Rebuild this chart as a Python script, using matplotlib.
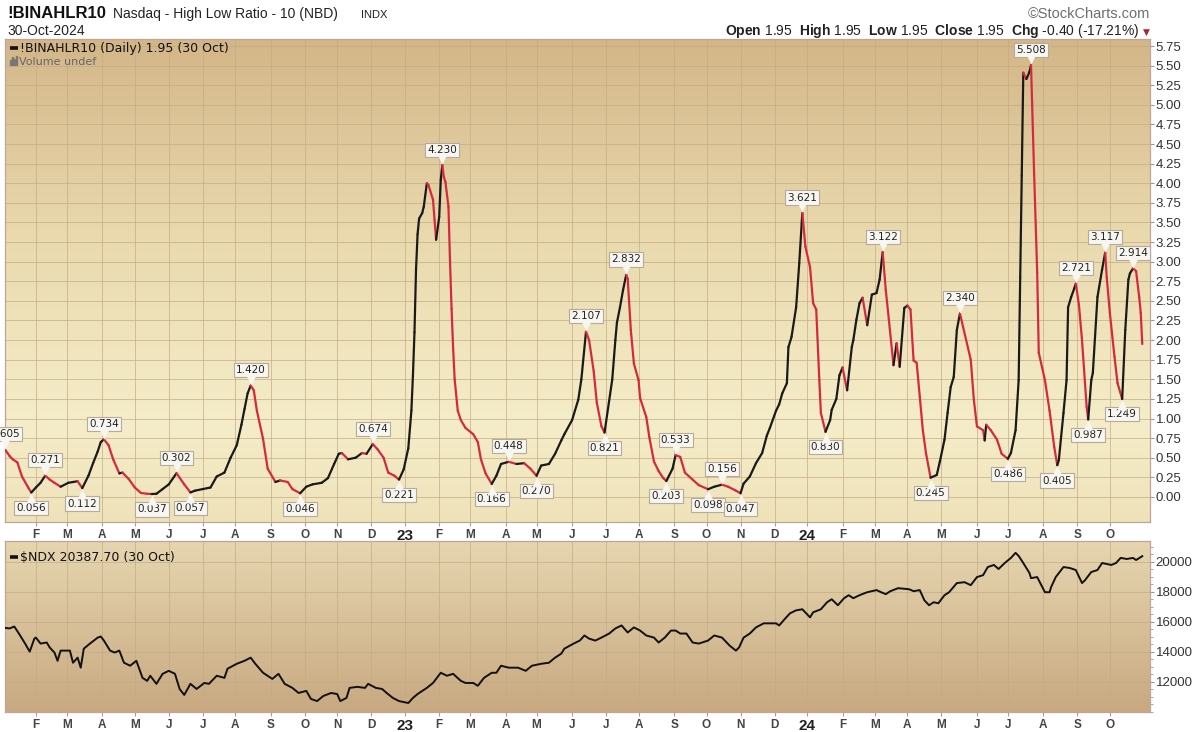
import numpy as np
import matplotlib
matplotlib.use("Agg")
import matplotlib.pyplot as plt
from matplotlib.colors import LinearSegmentedColormap
from matplotlib.collections import LineCollection
from matplotlib.patches import Rectangle
from matplotlib.transforms import ScaledTranslation

plt.rcParams["font.family"] = ["Liberation Sans", "DejaVu Sans"]
plt.rcParams["mathtext.fontset"] = "custom"
plt.rcParams["mathtext.bf"] = "Liberation Sans:bold"
plt.rcParams["mathtext.rm"] = "Liberation Sans"

START = np.datetime64("2022-01-04")

# --- !BINAHLR10 ---
hlr_dates = [
    "2022-01-04", "2022-01-07", "2022-01-11", "2022-01-14", "2022-01-19", "2022-01-25", "2022-01-27",
    "2022-02-01", "2022-02-04", "2022-02-09", "2022-02-14", "2022-02-17", "2022-02-23", "2022-03-02",
    "2022-03-07", "2022-03-10", "2022-03-15", "2022-03-21", "2022-03-24", "2022-03-29", "2022-03-31",
    "2022-04-04", "2022-04-07", "2022-04-12", "2022-04-18", "2022-04-20", "2022-04-26", "2022-05-02",
    "2022-05-06", "2022-05-12", "2022-05-17", "2022-05-20", "2022-05-26", "2022-06-01", "2022-06-08",
    "2022-06-15", "2022-06-21", "2022-06-24", "2022-07-01", "2022-07-08", "2022-07-14", "2022-07-21",
    "2022-07-27", "2022-08-02", "2022-08-05", "2022-08-09", "2022-08-11", "2022-08-15", "2022-08-17",
    "2022-08-19", "2022-08-25", "2022-08-30", "2022-09-06", "2022-09-09", "2022-09-16", "2022-09-21",
    "2022-09-28", "2022-10-04", "2022-10-10", "2022-10-18", "2022-10-24", "2022-10-28", "2022-11-02",
    "2022-11-04", "2022-11-10", "2022-11-17", "2022-11-23", "2022-11-28", "2022-12-02", "2022-12-07",
    "2022-12-13", "2022-12-16", "2022-12-22", "2022-12-27", "2022-12-30",
    "2023-01-04", "2023-01-06", "2023-01-09", "2023-01-10", "2023-01-11", "2023-01-12", "2023-01-13",
    "2023-01-17", "2023-01-18", "2023-01-20", "2023-01-23", "2023-01-26", "2023-01-27", "2023-01-30",
    "2023-02-01", "2023-02-02", "2023-02-03", "2023-02-06", "2023-02-07", "2023-02-09", "2023-02-10",
    "2023-02-13", "2023-02-14", "2023-02-15", "2023-02-17", "2023-02-21", "2023-02-24", "2023-03-03",
    "2023-03-08", "2023-03-10", "2023-03-15", "2023-03-21", "2023-03-24", "2023-03-29", "2023-04-05",
    "2023-04-12", "2023-04-19", "2023-04-25", "2023-05-01", "2023-05-04", "2023-05-11", "2023-05-17",
    "2023-05-23", "2023-05-25", "2023-06-01", "2023-06-07", "2023-06-09", "2023-06-14", "2023-06-16",
    "2023-06-21", "2023-06-23", "2023-06-28", "2023-06-30", "2023-07-07", "2023-07-11", "2023-07-12",
    "2023-07-14", "2023-07-18", "2023-07-20", "2023-07-21", "2023-07-25", "2023-07-27", "2023-08-01",
    "2023-08-02", "2023-08-08", "2023-08-10", "2023-08-15", "2023-08-18", "2023-08-23", "2023-08-25",
    "2023-08-31", "2023-09-04", "2023-09-07", "2023-09-12", "2023-09-19", "2023-09-25", "2023-10-03",
    "2023-10-09", "2023-10-16", "2023-10-20", "2023-10-27", "2023-11-01", "2023-11-03", "2023-11-09",
    "2023-11-15", "2023-11-21", "2023-11-24", "2023-11-28", "2023-12-04", "2023-12-06", "2023-12-08",
    "2023-12-13", "2023-12-14", "2023-12-18", "2023-12-21", "2023-12-25", "2023-12-27", "2023-12-29",
    "2024-01-03", "2024-01-05", "2024-01-09", "2024-01-11", "2024-01-12", "2024-01-17", "2024-01-22",
    "2024-01-23", "2024-01-26", "2024-01-30", "2024-02-01", "2024-02-06", "2024-02-09", "2024-02-12",
    "2024-02-14", "2024-02-16", "2024-02-20", "2024-02-23", "2024-02-28", "2024-03-04", "2024-03-06",
    "2024-03-08", "2024-03-12", "2024-03-14", "2024-03-19", "2024-03-21", "2024-03-25", "2024-03-28",
    "2024-04-01", "2024-04-03", "2024-04-05", "2024-04-09", "2024-04-11", "2024-04-15", "2024-04-17",
    "2024-04-22", "2024-04-26", "2024-04-30", "2024-05-03", "2024-05-07", "2024-05-09", "2024-05-13",
    "2024-05-15", "2024-05-17", "2024-05-21", "2024-05-28", "2024-05-30", "2024-06-03", "2024-06-07",
    "2024-06-10", "2024-06-11", "2024-06-14", "2024-06-20", "2024-06-25", "2024-07-01", "2024-07-03",
    "2024-07-08", "2024-07-10", "2024-07-11", "2024-07-12", "2024-07-15", "2024-07-17", "2024-07-19",
    "2024-07-22", "2024-07-24", "2024-07-26", "2024-07-29", "2024-08-02", "2024-08-07", "2024-08-12",
    "2024-08-14", "2024-08-15", "2024-08-20", "2024-08-22", "2024-08-23", "2024-08-27", "2024-08-29",
    "2024-08-30", "2024-09-03", "2024-09-05", "2024-09-10", "2024-09-11", "2024-09-13", "2024-09-16",
    "2024-09-19", "2024-09-24", "2024-09-26", "2024-09-27", "2024-10-01", "2024-10-04", "2024-10-08",
    "2024-10-11", "2024-10-15", "2024-10-17", "2024-10-18", "2024-10-22", "2024-10-24", "2024-10-28",
    "2024-10-29", "2024-10-30",
]
hlr_values = [
    0.605, 0.52, 0.48, 0.44, 0.26, 0.12, 0.056,
    0.12, 0.18, 0.271, 0.22, 0.18, 0.13, 0.18,
    0.19, 0.20, 0.112, 0.27, 0.43, 0.58, 0.70,
    0.734, 0.66, 0.48, 0.30, 0.31, 0.23, 0.12,
    0.05, 0.04, 0.037, 0.04, 0.10, 0.16, 0.302,
    0.16, 0.057, 0.08, 0.10, 0.12, 0.26, 0.31,
    0.50, 0.66, 0.92, 1.12, 1.32, 1.420, 1.36,
    1.10, 0.74, 0.36, 0.19, 0.21, 0.19, 0.10,
    0.046, 0.13, 0.16, 0.18, 0.24, 0.42, 0.55,
    0.56, 0.48, 0.50, 0.56, 0.55, 0.674, 0.61,
    0.50, 0.31, 0.27, 0.221, 0.35,
    0.62, 1.10, 1.55, 2.10, 2.90, 3.35, 3.55,
    3.62, 3.70, 4.00, 3.98, 3.79, 3.53, 3.28,
    3.57, 4.04, 4.230, 4.08, 4.02, 3.70, 3.00,
    2.40, 1.90, 1.50, 1.10, 0.98, 0.88, 0.80,
    0.70, 0.48, 0.30, 0.166, 0.27, 0.42, 0.448,
    0.42, 0.43, 0.36, 0.270, 0.40, 0.42, 0.55,
    0.72, 0.80, 0.98, 1.24, 1.50, 2.107, 2.00,
    1.60, 1.20, 0.90, 0.821, 1.50, 2.00, 2.22,
    2.42, 2.64, 2.832, 2.78, 2.13, 1.70, 1.49,
    1.26, 1.02, 0.76, 0.45, 0.33, 0.24, 0.203,
    0.36, 0.533, 0.51, 0.31, 0.22, 0.15, 0.098,
    0.13, 0.156, 0.13, 0.08, 0.047, 0.17, 0.26,
    0.43, 0.56, 0.78, 0.88, 1.10, 1.18, 1.32,
    1.45, 1.91, 2.04, 2.42, 2.98, 3.621, 3.19,
    2.93, 2.47, 2.39, 1.49, 1.07, 0.830, 0.98,
    1.11, 1.25, 1.55, 1.65, 1.36, 1.91, 2.00,
    2.26, 2.47, 2.54, 2.19, 2.58, 2.60, 2.77,
    3.122, 2.64, 2.26, 1.68, 1.96, 1.66, 2.41,
    2.44, 2.39, 1.74, 1.71, 1.28, 0.85, 0.56,
    0.245, 0.28, 0.45, 0.73, 1.07, 1.40, 1.53,
    2.13, 2.340, 2.17, 1.75, 1.24, 0.90, 0.85,
    0.72, 0.92, 0.85, 0.73, 0.55, 0.486, 0.56,
    0.85, 1.49, 2.80, 4.10, 5.41, 5.33, 5.42,
    5.508, 4.13, 2.86, 1.84, 1.49, 1.10, 0.64,
    0.405, 0.47, 1.07, 1.49, 2.42, 2.55, 2.66,
    2.721, 2.45, 2.00, 1.15, 0.987, 1.49, 1.58,
    2.55, 2.90, 3.117, 2.80, 2.35, 1.79, 1.45,
    1.249, 2.13, 2.77, 2.85, 2.914, 2.88, 2.55,
    2.35, 1.95,
]

# labelled turning points
peak_dates = [
    "2022-01-04", "2022-02-09", "2022-04-04", "2022-06-08", "2022-08-15", "2022-12-02",
    "2023-02-03", "2023-04-05", "2023-06-14", "2023-07-20", "2023-09-04", "2023-10-16",
    "2023-12-27", "2024-03-08", "2024-05-17", "2024-07-22", "2024-08-30", "2024-09-26",
    "2024-10-22",
]
trough_dates = [
    "2022-01-27", "2022-03-15", "2022-05-17", "2022-06-21", "2022-09-28", "2022-12-27",
    "2023-03-21", "2023-05-01", "2023-06-30", "2023-08-25", "2023-10-03", "2023-11-01",
    "2024-01-17", "2024-04-22", "2024-07-01", "2024-08-14", "2024-09-11", "2024-10-11",
]

# --- $NDX ---
ndx_dates = [
    "2022-01-04", "2022-01-07", "2022-01-12", "2022-01-17", "2022-01-21", "2022-01-26", "2022-01-31",
    "2022-02-01", "2022-02-04", "2022-02-10", "2022-02-14", "2022-02-17", "2022-02-21", "2022-02-23",
    "2022-03-03", "2022-03-07", "2022-03-10", "2022-03-14", "2022-03-16", "2022-03-22", "2022-03-29",
    "2022-03-31", "2022-04-04", "2022-04-08", "2022-04-13", "2022-04-18", "2022-04-21", "2022-04-27",
    "2022-05-03", "2022-05-09", "2022-05-12", "2022-05-16", "2022-05-20", "2022-05-26", "2022-06-01",
    "2022-06-07", "2022-06-10", "2022-06-15", "2022-06-21", "2022-06-27", "2022-07-04", "2022-07-07",
    "2022-07-14", "2022-07-21", "2022-07-25", "2022-08-02", "2022-08-09", "2022-08-15", "2022-08-18",
    "2022-08-25", "2022-09-02", "2022-09-08", "2022-09-14", "2022-09-21", "2022-09-27", "2022-10-04",
    "2022-10-07", "2022-10-13", "2022-10-19", "2022-10-26", "2022-11-01", "2022-11-03", "2022-11-09",
    "2022-11-11", "2022-11-18", "2022-11-25", "2022-11-29", "2022-12-06", "2022-12-12", "2022-12-15",
    "2022-12-21", "2022-12-27",
    "2023-01-04", "2023-01-09", "2023-01-12", "2023-01-20", "2023-01-26", "2023-02-02", "2023-02-08",
    "2023-02-14", "2023-02-21", "2023-02-24", "2023-03-03", "2023-03-08", "2023-03-14", "2023-03-21",
    "2023-03-24", "2023-03-29", "2023-04-05", "2023-04-13", "2023-04-20", "2023-04-26", "2023-05-04",
    "2023-05-11", "2023-05-17", "2023-05-23", "2023-05-25", "2023-06-02", "2023-06-08", "2023-06-13",
    "2023-06-16", "2023-06-22", "2023-06-28", "2023-07-05", "2023-07-11", "2023-07-17", "2023-07-21",
    "2023-07-27", "2023-08-02", "2023-08-08", "2023-08-15", "2023-08-18", "2023-08-24", "2023-08-30",
    "2023-09-04", "2023-09-07", "2023-09-13", "2023-09-19", "2023-09-25", "2023-10-03", "2023-10-09",
    "2023-10-16", "2023-10-23", "2023-10-27", "2023-10-31", "2023-11-03", "2023-11-09", "2023-11-15",
    "2023-11-22", "2023-12-04", "2023-12-06", "2023-12-12", "2023-12-15", "2023-12-21", "2023-12-27",
    "2024-01-03", "2024-01-05", "2024-01-12", "2024-01-18", "2024-01-23", "2024-01-29", "2024-02-02",
    "2024-02-07", "2024-02-12", "2024-02-16", "2024-02-23", "2024-03-04", "2024-03-07", "2024-03-12",
    "2024-03-15", "2024-03-22", "2024-04-02", "2024-04-05", "2024-04-11", "2024-04-16", "2024-04-19",
    "2024-04-24", "2024-04-29", "2024-05-03", "2024-05-08", "2024-05-15", "2024-05-22", "2024-05-28",
    "2024-06-03", "2024-06-07", "2024-06-12", "2024-06-18", "2024-06-21", "2024-06-27", "2024-07-03",
    "2024-07-08", "2024-07-10", "2024-07-15", "2024-07-19", "2024-07-22", "2024-07-26", "2024-08-02",
    "2024-08-07", "2024-08-08", "2024-08-13", "2024-08-20", "2024-08-26", "2024-08-30", "2024-09-05",
    "2024-09-09", "2024-09-13", "2024-09-19", "2024-09-24", "2024-10-02", "2024-10-07", "2024-10-10",
    "2024-10-16", "2024-10-22", "2024-10-24", "2024-10-30",
]
ndx_values = [
    15600, 15560, 15690, 15220, 14550, 14010, 14880,
    14950, 14550, 14620, 14280, 13950, 13400, 14080,
    14080, 13270, 13610, 12940, 14210, 14550, 14950,
    15020, 14750, 14080, 13950, 14080, 13270, 13070,
    13400, 12260, 12060, 12400, 11860, 12530, 12730,
    12530, 11520, 11120, 11860, 11520, 11920, 11860,
    12400, 12260, 12870, 13200, 13400, 13610, 13200,
    12600, 12190, 12530, 11860, 11590, 11250, 11390,
    10850, 10710, 11050, 11250, 11180, 10710, 10920,
    11590, 11660, 11590, 11860, 11590, 11520, 11250,
    10920, 10710,
    10580, 10920, 11180, 11590, 11920, 12600, 12400,
    12530, 12060, 11920, 11920, 11730, 12260, 12600,
    12600, 13070, 12940, 12940, 12730, 13070, 13200,
    13270, 13610, 13880, 14210, 14550, 14750, 15090,
    14880, 14750, 14950, 15220, 15560, 15760, 15290,
    15630, 15420, 15090, 14950, 14620, 14950, 15420,
    15420, 15220, 15220, 14620, 14550, 14750, 15090,
    14950, 14410, 14080, 14280, 14950, 15220, 15630,
    15900, 15900, 15760, 16230, 16570, 16770, 16840,
    16300, 16640, 16840, 17310, 17510, 17110, 17580,
    17780, 17580, 17780, 17980, 18120, 17980, 17850,
    18050, 18250, 18180, 18050, 18120, 17440, 17110,
    17310, 17240, 17780, 17980, 18590, 18650, 18450,
    18990, 19120, 19660, 19800, 19530, 19930, 20270,
    20610, 20400, 19930, 19260, 18920, 18990, 17980,
    17980, 18320, 18990, 19660, 19600, 19460, 18590,
    18790, 19330, 19460, 19930, 19800, 19930, 20270,
    20200, 20270, 20130, 20387.70,
]

hlr_ticks = np.arange(0, 5.76, 0.25)
ndx_ticks = [12000, 14000, 16000, 18000, 20000]


def bx(dates):
    return np.busday_count(START, np.array(dates, dtype="datetime64[D]"))


hx = bx(hlr_dates)
hv = np.array(hlr_values)
nx = bx(ndx_dates)
nv = np.array(ndx_values)
x_end = hx[-1]

# month starts for ticks / vertical grid
months = np.arange(np.datetime64("2022-02"), np.datetime64("2024-11"))
month_days = np.busday_offset(months.astype("datetime64[D]"), 0, roll="forward")
mx = bx(month_days)
mlabels = []
for m in months:
    yr = int(str(m)[:4]); mo = int(str(m)[5:7])
    mlabels.append(str(yr)[2:] if mo == 1 else "JFMAMJJASOND"[mo - 1])

W, H = 1200, 732
fig = plt.figure(figsize=(12, 7.32), dpi=100)
fig.patch.set_facecolor("white")


def fx(px):
    return px / W


def fy(py):
    return 1 - py / H


ax1 = fig.add_axes([fx(5), fy(522), fx(1150) - fx(5), fy(39) - fy(522)])
ax2 = fig.add_axes([fx(5), fy(712), fx(1150) - fx(5), fy(541) - fy(712)])


def gradient(ax, stops):
    cmap = LinearSegmentedColormap.from_list("bg", stops)
    ax.imshow(np.linspace(0, 1, 256).reshape(-1, 1), cmap=cmap, aspect="auto",
              extent=(0, 1, 0, 1), transform=ax.transAxes, zorder=0)


gradient(ax1, [(0, "#d3b688"), (0.4, "#e9d9ad"), (0.8, "#f5edc9"), (1, "#eee2b9")])
gradient(ax2, [(0, "#e6d6b0"), (1, "#c8a981")])

# colored line: black rising, red falling
pts = np.column_stack([hx, hv])
segs = np.stack([pts[:-1], pts[1:]], axis=1)
cols = ["#1a1a1a" if b >= a else "#d42a3d" for a, b in zip(hv[:-1], hv[1:])]
ax1.add_collection(LineCollection(segs, colors=cols, linewidths=1.6, zorder=3, capstyle="round"))

ax2.plot(nx, nv, color="#111111", lw=1.4, zorder=3)

for ax in (ax1, ax2):
    ax.set_xlim(0, x_end + 5)
    ax.set_xticks(mx)
    ax.set_xticklabels(mlabels)
    ax.grid(True, color="#c3ab84", lw=0.6, alpha=0.8)
    ax.yaxis.tick_right()
    ax.tick_params(axis="y", length=3, pad=1, labelsize=9.5, labelcolor="#333333", color="#999999")
    ax.tick_params(axis="x", length=3, pad=2, labelsize=8.5, labelcolor="#444444", color="#b09a90")
    for s in ax.spines.values():
        s.set_color("#c0a497")
        s.set_linewidth(0.9)
    for lab in ax.get_xticklabels():
        lab.set_fontweight("bold")
        if len(lab.get_text()) == 2:
            lab.set_fontsize(11)
            lab.set_color("#222222")

ax1.set_ylim(-0.32, 5.84)
ax1.set_yticks(hlr_ticks)
ax1.yaxis.set_major_formatter("{x:.2f}")
ax2.set_ylim(9980, 21400)
ax2.set_yticks(ndx_ticks)
ax2.set_yticks(np.arange(10000, 21001, 500), minor=True)
ax2.tick_params(axis="y", which="minor", length=2, color="#999999")

# turning point labels
box = dict(boxstyle="square,pad=0.2", fc="#f8f6f0", ec="#b5aa9c", lw=0.8)
date_list = list(hlr_dates)
for dates, sign in ((peak_dates, 1), (trough_dates, -1)):
    for d in dates:
        i = date_list.index(d)
        x, v = hx[i], hv[i]
        ax1.annotate(f"{v:.3f}", (x, v), xytext=(0, 7.5 * sign), textcoords="offset points",
                     ha="center", va="bottom" if sign > 0 else "top", fontsize=7.5,
                     family="DejaVu Sans", color="#222222", bbox=box, zorder=6,
                     annotation_clip=False)
        off = ScaledTranslation(0, 4.2 * sign / 72, fig.dpi_scale_trans)
        ax1.plot([x], [v], marker="v" if sign > 0 else "^", ms=7, mfc="#f8f6f0", mec="none",
                 transform=ax1.transData + off, zorder=7, clip_on=False)

# in-panel legends
ax1.plot([0.0045, 0.011], [0.981, 0.981], transform=ax1.transAxes, color="#111111", lw=2.6,
         solid_capstyle="butt", zorder=8)
ax1.text(0.0135, 0.981, "!BINAHLR10 (Daily) 1.95 (30 Oct)", transform=ax1.transAxes,
         fontsize=9, family="DejaVu Sans", va="center", ha="left", color="#111111", zorder=8)
for k, h in enumerate([0.55, 0.9, 0.7, 1.0]):
    ax1.add_patch(Rectangle((0.0045 + k * 0.0016, 0.947), 0.0011, 0.018 * h,
                            transform=ax1.transAxes, color="#777777", zorder=8))
ax1.text(0.0125, 0.953, "Volume undef", transform=ax1.transAxes, fontsize=8,
         family="DejaVu Sans", va="center", ha="left", color="#666666", zorder=8)

ax2.plot([0.0045, 0.011], [0.905, 0.905], transform=ax2.transAxes, color="#111111", lw=2.6,
         solid_capstyle="butt", zorder=8)
ax2.text(0.0135, 0.905, r"\$NDX 20387.70 (30 Oct)", transform=ax2.transAxes,
         fontsize=9, family="DejaVu Sans", va="center", ha="left", color="#111111", zorder=8)

# header
fig.text(fx(7), fy(14), "!BINAHLR10", fontsize=12, fontweight="bold", va="center", color="#111111")
fig.text(fx(113), fy(14), "Nasdaq - High Low Ratio - 10 (NBD)", fontsize=10, va="center",
         color="#222222")
fig.text(fx(361), fy(15), "INDX", fontsize=8, va="center", color="#222222")
fig.text(fx(7), fy(31), "30-Oct-2024", fontsize=10, va="center", color="#222222")
fig.text(fx(1150), fy(14), "\u00a9StockCharts.com", fontsize=10.5, va="center", ha="right",
         color="#6e6e6e")
fig.text(fx(1139), fy(31),
         r"$\mathbf{Open}$ 1.95  $\mathbf{High}$ 1.95  $\mathbf{Low}$ 1.95  "
         r"$\mathbf{Close}$ 1.95  $\mathbf{Chg}$ -0.40 (-17.21%)",
         fontsize=10, va="center", ha="right", color="#222222")
fig.text(fx(1146), fy(32), "\u25bc", fontsize=6.5, va="center", ha="center", color="#b3203a",
         family="DejaVu Sans")

fig.savefig("out.png", dpi=100, facecolor="white")
